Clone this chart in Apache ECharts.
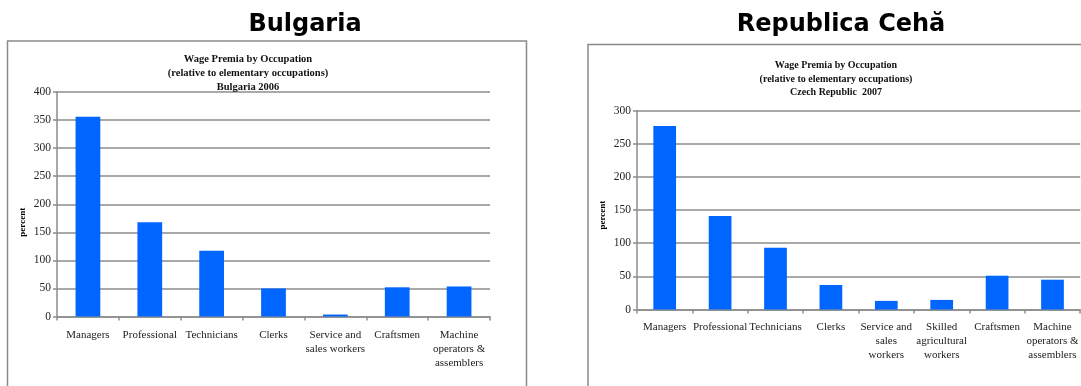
<!DOCTYPE html>
<html>
<head>
<meta charset="utf-8">
<script src="https://cdn.jsdelivr.net/npm/echarts@6/dist/echarts.min.js"></script>
<style>
  html, body { margin: 0; padding: 0; background: #fff; }
  #chart { width: 1081px; height: 386px; }
</style>
</head>
<body>
<div id="chart"></div>
<script>
// ---- Data ----
const bgCategories = ["Managers", "Professional", "Technicians", "Clerks", "Service and\nsales workers", "Craftsmen", "Machine\noperators &\nassemblers"];
const bgValues = [356, 168, 117, 50, 3.5, 52, 53.5];
const bgTicks = [0, 400, 50]; // min, max, interval

const czCategories = ["Managers", "Professional", "Technicians", "Clerks", "Service and\nsales\nworkers", "Skilled\nagricultural\nworkers", "Craftsmen", "Machine\noperators &\nassemblers"];
const czValues = [277, 141, 93, 37, 13, 14.5, 51, 45];
const czTicks = [0, 300, 50];

const panelTitles = ["Bulgaria", "Republica Cehă"];
const innerTitles = [
  "Wage Premia by Occupation\n(relative to elementary occupations)\nBulgaria 2006",
  "Wage Premia by Occupation\n(relative to elementary occupations)\nCzech Republic  2007"
];
const yName = "percent";

// ---- Styles ----
const GRID_C = '#8c8c8c';
const BAR_C = '#0066ff';
const SERIF = '"Liberation Serif", "Times New Roman", serif';

function makeYAxis(idx, ticks) {
  return {
    gridIndex: idx, type: 'value', min: ticks[0], max: ticks[1], interval: ticks[2],
    name: yName, nameLocation: 'middle', nameRotate: 90,
    nameGap: 30,
    nameTextStyle: { fontFamily: SERIF, fontSize: 9, fontWeight: 'bold', color: '#000', padding: idx === 0 ? [0, 36, 0, 0] : [0, 10, 0, 0] },
    axisLine: { show: true, lineStyle: { color: GRID_C, width: 1.5 } },
    axisTick: { show: true, length: 4, lineStyle: { color: GRID_C, width: 1.5 } },
    splitLine: { show: true, lineStyle: { color: GRID_C, width: 1.5 } },
    axisLabel: { fontFamily: SERIF, fontSize: 11.5, color: '#222', margin: 6 }
  };
}
function makeXAxis(idx, cats, margin) {
  return {
    gridIndex: idx, type: 'category', data: cats,
    axisLine: { show: true, lineStyle: { color: GRID_C, width: 1.5 } },
    axisTick: { show: true, length: 4, alignWithLabel: false, lineStyle: { color: GRID_C, width: 1.5 } },
    axisLabel: { interval: 0, hideOverlap: false, fontFamily: SERIF, fontSize: 11, lineHeight: 14, color: '#222', margin: margin }
  };
}

const chart = echarts.init(document.getElementById('chart'), null, { renderer: 'canvas' });
chart.setOption({
  animation: false,
  backgroundColor: '#fff',
  title: [
    { text: panelTitles[0], left: 300, top: 8, textAlign: 'center',
      textStyle: { fontFamily: '"DejaVu Sans", sans-serif', fontWeight: 'bold', fontSize: 24, color: '#000' } },
    { text: panelTitles[1], left: 836, top: 8, textAlign: 'center',
      textStyle: { fontFamily: '"DejaVu Sans", sans-serif', fontWeight: 'bold', fontSize: 24, color: '#000' } },
    { text: innerTitles[0], left: 243, top: 47, textAlign: 'center',
      textStyle: { fontFamily: SERIF, fontWeight: 'bold', fontSize: 10.5, lineHeight: 14, color: '#111' } },
    { text: innerTitles[1], left: 831, top: 54, textAlign: 'center',
      textStyle: { fontFamily: SERIF, fontWeight: 'bold', fontSize: 10, lineHeight: 13.3, color: '#111' } }
  ],
  graphic: [
    { type: 'rect', shape: { x: 7.5, y: 41, width: 519, height: 400 }, style: { fill: 'none', stroke: '#8a8a8a', lineWidth: 1.5 }, z: -1 },
    { type: 'rect', shape: { x: 588, y: 44.5, width: 600, height: 400 }, style: { fill: 'none', stroke: '#8a8a8a', lineWidth: 1.5 }, z: -1 }
  ],
  grid: [
    { left: 57, top: 92, width: 433, height: 224.5 },
    { left: 637, top: 110.7, width: 453, height: 198.8 }
  ],
  xAxis: [ makeXAxis(0, bgCategories, 11.5), makeXAxis(1, czCategories, 10.5) ],
  yAxis: [ makeYAxis(0, bgTicks), makeYAxis(1, czTicks) ],
  series: [
    { type: 'bar', xAxisIndex: 0, yAxisIndex: 0, data: bgValues, barWidth: '40%', itemStyle: { color: BAR_C } },
    { type: 'bar', xAxisIndex: 1, yAxisIndex: 1, data: czValues, barWidth: '41%', itemStyle: { color: BAR_C } }
  ]
});
</script>
</body>
</html>
